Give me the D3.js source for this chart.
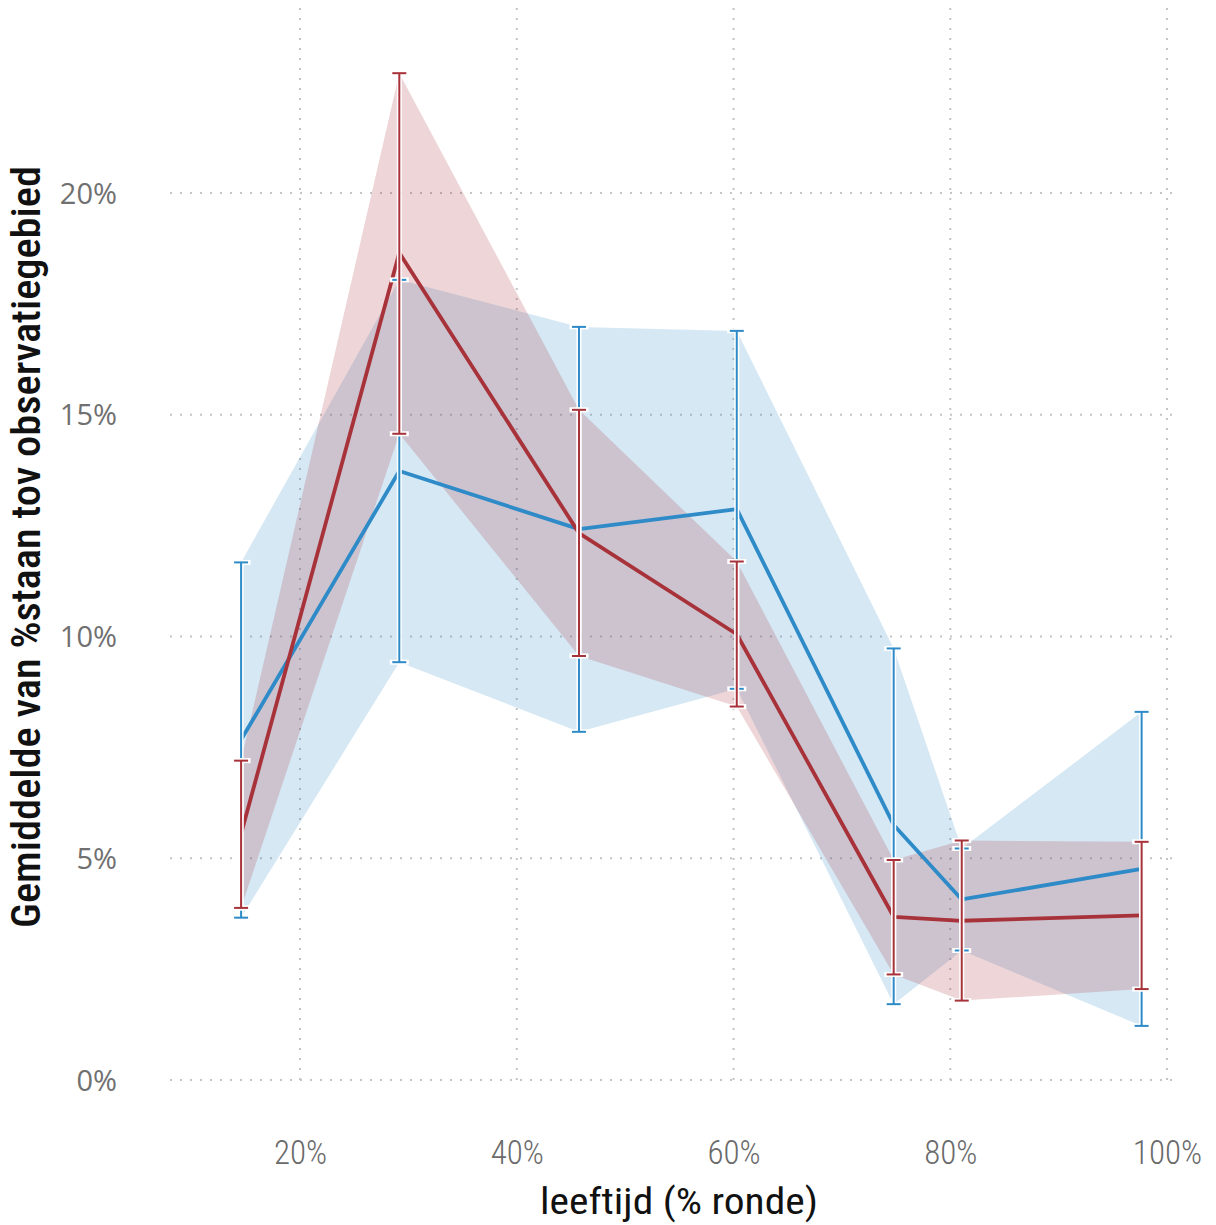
<!DOCTYPE html>
<html>
<head>
<meta charset="utf-8">
<script src="https://cdn.jsdelivr.net/npm/d3@7"></script>
<style>
  html, body { margin: 0; padding: 0; background: #fff; }
  svg { display: block; }
</style>
</head>
<body>
<svg id="chart" width="1216" height="1225"></svg>
<script>
// Age as share of the round (x) and mean standing share per area (y)
const ageShare = [0.1456, 0.2916, 0.4574, 0.6030, 0.7478, 0.8106, 0.9766];

const blueMean  = [0.0767, 0.1373, 0.1242, 0.1287, 0.0575, 0.0407, 0.0476];
const blueUpper = [0.1167, 0.1804, 0.1698, 0.1689, 0.0973, 0.0522, 0.0830];
const blueLower = [0.0366, 0.0942, 0.0785, 0.0882, 0.0171, 0.0292, 0.0122];

const redMean  = [0.0555, 0.1865, 0.1233, 0.1005, 0.0368, 0.0359, 0.0371];
const redUpper = [0.0720, 0.2270, 0.1511, 0.1169, 0.0496, 0.0540, 0.0537];
const redLower = [0.0388, 0.1457, 0.0956, 0.0842, 0.0238, 0.0179, 0.0205];

const xTicks = [0.2, 0.4, 0.6, 0.8, 1.0];
const yTicks = [0, 0.05, 0.10, 0.15, 0.20];

const svg = d3.select("#chart");

const plot = { left: 170, right: 1180, top: 0, bottom: 1080 };

const x = d3.scaleLinear().domain([0.08, 1.012]).range([plot.left, plot.right]);
const y = d3.scaleLinear().domain([0, 0.2435]).range([plot.bottom, plot.top]);

const pct = d3.format(".0%");
const condensed = "'Roboto Condensed', 'Liberation Sans Narrow', 'DejaVu Sans Condensed', sans-serif";

// Dotted grid
const grid = svg.append("g").attr("stroke", "#c4c4c4").attr("stroke-width", 2)
  .attr("stroke-dasharray", "2,8").attr("fill", "none");
grid.selectAll("line.h").data(yTicks).join("line").attr("class", "h")
  .attr("x1", plot.left).attr("x2", plot.right)
  .attr("y1", d => y(d)).attr("y2", d => y(d));
grid.selectAll("line.v").data(xTicks).join("line").attr("class", "v")
  .attr("x1", d => x(d)).attr("x2", d => x(d))
  .attr("y1", 8).attr("y2", 1086);

// Axes (labels only)
const yAxis = d3.axisLeft(y).tickValues(yTicks).tickFormat(pct).tickSize(0).tickPadding(0);
svg.append("g").attr("transform", "translate(117,0)").call(yAxis)
  .call(g => g.select(".domain").remove())
  .call(g => g.selectAll("text")
    .attr("fill", "#707070").attr("font-size", 29).attr("font-weight", 400)
    .attr("font-family", "'Open Sans', 'Noto Sans', sans-serif")
    .attr("dy", "0.35em"));

const xAxis = d3.axisBottom(x).tickValues(xTicks).tickFormat(pct).tickSize(0).tickPadding(0);
svg.append("g").attr("transform", "translate(0,1143)").call(xAxis)
  .call(g => g.select(".domain").remove())
  .call(g => g.selectAll("text")
    .attr("fill", "#6a6a6a").attr("font-size", 33).attr("font-weight", 300)
    .attr("font-family", condensed)
    .attr("dy", "0.65em"));

// Axis titles
svg.append("text")
  .attr("x", 679).attr("y", 1214)
  .attr("text-anchor", "middle")
  .attr("font-size", 36).attr("font-weight", 400)
  .attr("font-family", condensed)
  .attr("fill", "#111")
  .attr("textLength", 278).attr("lengthAdjust", "spacingAndGlyphs")
  .text("leeftijd (% ronde)");

svg.append("text")
  .attr("transform", "translate(40,547) rotate(-90)")
  .attr("text-anchor", "middle")
  .attr("font-size", 40).attr("font-weight", 500)
  .attr("font-family", condensed)
  .attr("fill", "#111")
  .attr("textLength", 762).attr("lengthAdjust", "spacingAndGlyphs")
  .text("Gemiddelde van %staan tov observatiegebied");

const series = [
  { color: "#2E8BC8", mean: blueMean, upper: blueUpper, lower: blueLower },
  { color: "#A8323A", mean: redMean,  upper: redUpper,  lower: redLower }
];

// Confidence bands
const area = d3.area()
  .x(d => x(d.x)).y0(d => y(d.lo)).y1(d => y(d.hi));
series.forEach(s => {
  const pts = ageShare.map((v, i) => ({ x: v, lo: s.lower[i], hi: s.upper[i] }));
  svg.append("path").datum(pts)
    .attr("d", area)
    .attr("fill", s.color).attr("fill-opacity", 0.2);
});

// Mean lines
const line = d3.line().x(d => x(d.x)).y(d => y(d.v));
series.forEach(s => {
  const pts = ageShare.map((v, i) => ({ x: v, v: s.mean[i] }));
  svg.append("path").datum(pts)
    .attr("d", line)
    .attr("fill", "none").attr("stroke", s.color)
    .attr("stroke-width", 3.8).attr("stroke-linejoin", "round");
});

// Error bars with white halo
const capHalf = 7;
series.forEach(s => {
  const data = ageShare.map((v, i) => ({ x: v, lo: s.lower[i], hi: s.upper[i] }));
  const g = svg.append("g");
  const draw = (stroke, width) => {
    const eg = g.append("g").attr("stroke", stroke).attr("stroke-width", width)
      .attr("fill", "none").attr("stroke-linecap", stroke === "#fff" ? "square" : "butt");
    eg.selectAll("line.v").data(data).join("line").attr("class", "v")
      .attr("x1", d => x(d.x)).attr("x2", d => x(d.x))
      .attr("y1", d => y(d.hi)).attr("y2", d => y(d.lo));
    eg.selectAll("line.t").data(data).join("line").attr("class", "t")
      .attr("x1", d => x(d.x) - capHalf).attr("x2", d => x(d.x) + capHalf)
      .attr("y1", d => y(d.hi)).attr("y2", d => y(d.hi));
    eg.selectAll("line.b").data(data).join("line").attr("class", "b")
      .attr("x1", d => x(d.x) - capHalf).attr("x2", d => x(d.x) + capHalf)
      .attr("y1", d => y(d.lo)).attr("y2", d => y(d.lo));
  };
  draw("#fff", 5);
  draw(s.color, 2);
});
</script>
</body>
</html>
